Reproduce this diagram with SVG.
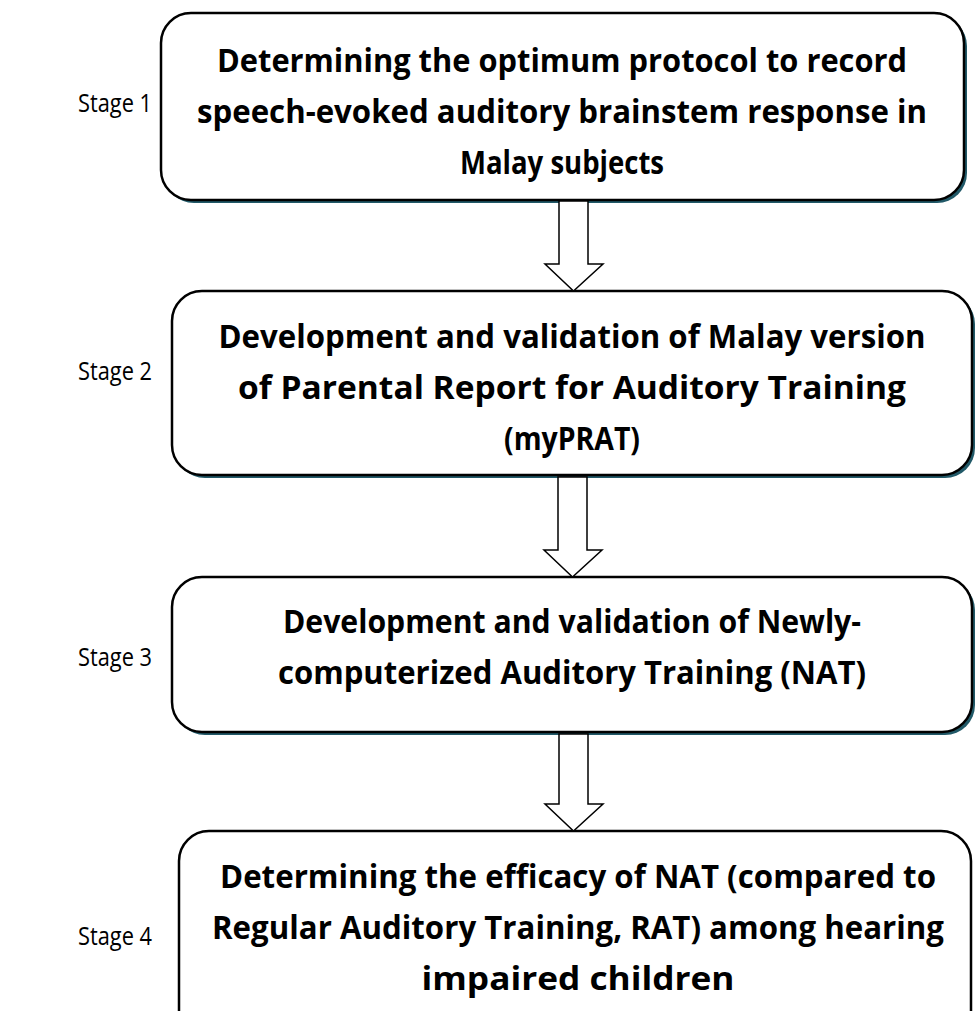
<svg xmlns="http://www.w3.org/2000/svg" width="976" height="1011" viewBox="0 0 976 1011">
<defs>
<style>
.box{fill:#ffffff;stroke:#000000;stroke-width:2.5}
.shadow{fill:#215968}
.t{font-family:"Open Sans","Liberation Sans",sans-serif;font-weight:bold;font-size:32px;fill:#000000;text-anchor:middle}
.s{font-family:"Open Sans","Liberation Sans",sans-serif;font-size:25px;fill:#000000;text-anchor:middle}
.arr{fill:#ffffff;stroke:#000000;stroke-width:1.5;stroke-linejoin:miter}
</style>
</defs>
<rect width="976" height="1011" fill="#ffffff"/>
<g id="stage-labels">
<text class="s" x="115" y="112" textLength="74" lengthAdjust="spacingAndGlyphs">Stage 1</text>
<text class="s" x="115" y="380" textLength="74" lengthAdjust="spacingAndGlyphs">Stage 2</text>
<text class="s" x="115" y="666" textLength="74" lengthAdjust="spacingAndGlyphs">Stage 3</text>
<text class="s" x="115" y="945" textLength="74" lengthAdjust="spacingAndGlyphs">Stage 4</text>
</g>
<g id="node1">
<rect class="shadow" x="164" y="16" width="803" height="187" rx="30"/>
<rect class="box" x="161" y="13" width="803" height="187" rx="30"/>
<text class="t" x="562" y="72" textLength="690" lengthAdjust="spacingAndGlyphs">Determining the optimum protocol to record</text>
<text class="t" x="562" y="123" textLength="730" lengthAdjust="spacingAndGlyphs">speech-evoked auditory brainstem response in</text>
<text class="t" x="562" y="174" textLength="204" lengthAdjust="spacingAndGlyphs">Malay subjects</text>
</g>
<g id="node2">
<rect class="shadow" x="175" y="294" width="800" height="184" rx="30"/>
<rect class="box" x="172" y="291" width="800" height="184" rx="30"/>
<text class="t" x="572" y="348" textLength="707" lengthAdjust="spacingAndGlyphs">Development and validation of Malay version</text>
<text class="t" x="572" y="399" textLength="668" lengthAdjust="spacingAndGlyphs">of Parental Report for Auditory Training</text>
<text class="t" x="572" y="450" textLength="136" lengthAdjust="spacingAndGlyphs">(myPRAT)</text>
</g>
<g id="node3">
<rect class="shadow" x="175" y="580" width="800" height="155" rx="30"/>
<rect class="box" x="172" y="577" width="800" height="155" rx="30"/>
<text class="t" x="572" y="633" textLength="578" lengthAdjust="spacingAndGlyphs">Development and validation of Newly-</text>
<text class="t" x="572" y="684" textLength="588" lengthAdjust="spacingAndGlyphs">computerized Auditory Training (NAT)</text>
</g>
<g id="node4">
<rect class="box" x="179" y="831" width="792" height="220" rx="30"/>
<text class="t" x="578" y="888" textLength="716" lengthAdjust="spacingAndGlyphs">Determining the efficacy of NAT (compared to</text>
<text class="t" x="578" y="939" textLength="732" lengthAdjust="spacingAndGlyphs">Regular Auditory Training, RAT) among hearing</text>
<text class="t" x="578" y="990" textLength="313" lengthAdjust="spacingAndGlyphs">impaired children</text>
</g>
<g id="connectors">
<polygon class="arr" points="559,201 588,201 588,264 603,264 573.5,291 545,264 559,264"/>
<polygon class="arr" points="558,477 587,477 587,550 602,550 572.5,577 544,550 558,550"/>
<polygon class="arr" points="559,734 588,734 588,804 603,804 573.5,831 545,804 559,804"/>
</g>
</svg>
